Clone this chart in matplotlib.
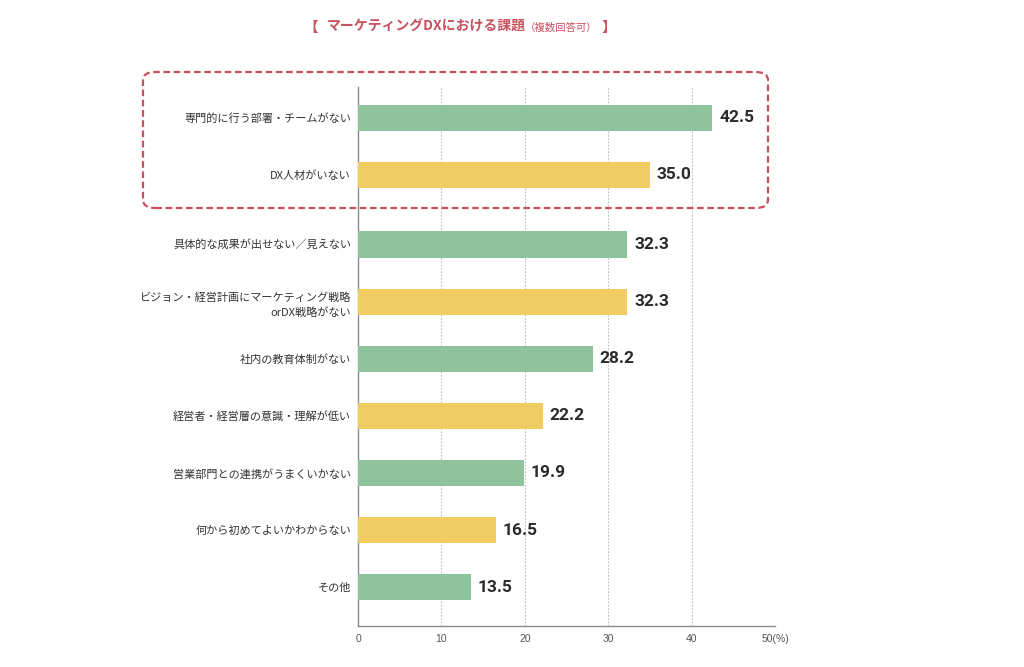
"""
マーケティングDXにおける課題（複数回答可）の横棒グラフ
"""

import matplotlib
matplotlib.use("Agg")
import matplotlib.pyplot as plt
from matplotlib.patches import FancyBboxPatch

plt.rcParams["font.family"] = ["Noto Sans CJK JP", "DejaVu Sans"]

# ---------------------------------- Data ----------------------------------- #
categories = [
    "専門的に行う部署・チームがない",
    "DX人材がいない",
    "具体的な成果が出せない／見えない",
    "ビジョン・経営計画にマーケティング戦略\norDX戦略がない",
    "社内の教育体制がない",
    "経営者・経営層の意識・理解が低い",
    "営業部門との連携がうまくいかない",
    "何から初めてよいかわからない",
    "その他",
]
values = [42.5, 35.0, 32.3, 32.3, 28.2, 22.2, 19.9, 16.5, 13.5]
xticks = [0, 10, 20, 30, 40, 50]
xtick_labels = ["0", "10", "20", "30", "40", "50(%)"]
# --------------------------------------------------------------------------- #

GREEN = "#8fc39b"
YELLOW = "#f0cc62"
RED = "#c9515f"

W, H = 1024, 667
fig = plt.figure(figsize=(W / 100, H / 100), dpi=100)

def fx(px):
    return px / W

def fy(py):
    return 1 - py / H

ax = fig.add_axes([fx(358), fy(626), fx(775) - fx(358), fy(87) - fy(626)])

# the first two bars sit inside the highlight box, so leave a bit of extra room after them
ypos = [i if i < 2 else i + 0.22 for i in range(len(values))]
colors = [GREEN if i % 2 == 0 else YELLOW for i in range(len(values))]

ax.barh(ypos, values, height=0.46, color=colors, zorder=3)
for y, v in zip(ypos, values):
    ax.text(v + 0.8, y, f"{v:.1f}", va="center", ha="left",
            fontsize=12.5, fontweight="bold", color="#2b2b2b",
            family=["Roboto", "DejaVu Sans"])

ax.set_xlim(0, 50)
ax.set_ylim(ypos[-1] + 0.68, -0.54)
ax.set_yticks(ypos)
ax.set_yticklabels(categories, fontsize=8, color="#333333", linespacing=1.5)
ax.tick_params(axis="y", length=0, pad=5)
ax.set_xticks(xticks)
ax.set_xticklabels(xtick_labels, fontsize=7.5, color="#555555",
                   family=["Liberation Sans", "DejaVu Sans"])
ax.tick_params(axis="x", length=0, pad=6)

for x in xticks[1:]:
    ax.axvline(x, color="#bdbdbd", lw=0.8, ls=(0, (1.5, 1.5)), zorder=1)

for side in ["top", "right"]:
    ax.spines[side].set_visible(False)
ax.spines["left"].set_color("#8a8a8a")
ax.spines["bottom"].set_color("#8a8a8a")
ax.spines["left"].set_linewidth(1.0)
ax.spines["bottom"].set_linewidth(1.0)

# highlight box round the first two items
box = FancyBboxPatch((fx(143), fy(208)), fx(768) - fx(143), fy(72) - fy(208),
                     boxstyle="round,pad=0,rounding_size=0.012",
                     transform=fig.transFigure, fill=False, edgecolor=RED,
                     lw=1.6, ls=(0, (3, 1.6)), zorder=5)
fig.add_artist(box)

# title, pieces chained one after another
fig.text(fx(303), fy(27), "【", color=RED, fontsize=10.5, fontweight="bold",
         ha="left", va="center")
t2 = fig.text(fx(327), fy(27), "マーケティングDXにおける課題", color=RED,
              fontsize=10, fontweight="bold", ha="left", va="center")
ax.annotate("（複数回答可）", xy=(1, 0.5), xycoords=t2, xytext=(-1, -0.5),
            textcoords="offset points", color=RED, fontsize=7.5,
            ha="left", va="center", annotation_clip=False)
fig.text(fx(602), fy(27), "】", color=RED, fontsize=10.5, fontweight="bold",
         ha="left", va="center")

fig.savefig("out.png", dpi=100)
